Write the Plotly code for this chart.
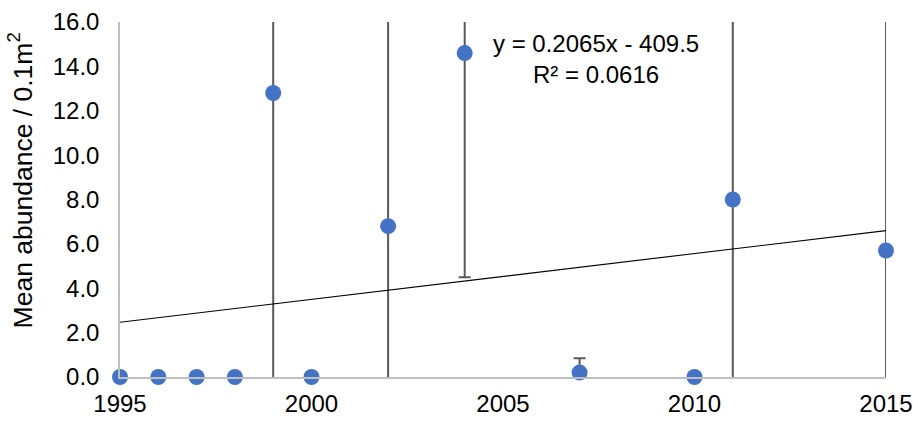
import plotly.graph_objects as go

years = [1995, 1996, 1997, 1998, 1999, 2000, 2002, 2004, 2007, 2010, 2011, 2015]
mean_abundance = [0.0, 0.0, 0.0, 0.0, 12.8, 0.0, 6.8, 14.6, 0.2, 0.0, 8.0, 5.7]
error_values = [0.0, 0.0, 0.0, 0.0, 14.0, 0.0, 12.0, 10.1, 0.65, 0.0, 11.0, 12.0]
trend_slope = 0.2065
trend_intercept = -409.5
trend_x = [1995, 2015]
y_ticks = [0, 2, 4, 6, 8, 10, 12, 14, 16]
x_ticks = [1995, 2000, 2005, 2010, 2015]

FONT = "Liberation Sans, Arial, sans-serif"
fig = go.Figure()

# error bars (clipped to plot area)
fig.add_trace(go.Scatter(
    x=years, y=mean_abundance, mode="markers",
    marker=dict(size=1, opacity=0),
    error_y=dict(type="data", array=error_values, symmetric=True,
                 color="#595959", thickness=2, width=6),
    cliponaxis=True, showlegend=False, hoverinfo="skip",
))

# trendline
trend_y = [trend_slope * x + trend_intercept for x in trend_x]
fig.add_trace(go.Scatter(
    x=trend_x, y=trend_y, mode="lines",
    line=dict(color="#000000", width=1.1),
    showlegend=False,
))

# markers
fig.add_trace(go.Scatter(
    x=years, y=mean_abundance, mode="markers",
    marker=dict(size=16, color="#4472C4"),
    cliponaxis=False, showlegend=False,
))

fig.add_annotation(
    text="y = 0.2065x - 409.5<br>R² = 0.0616",
    xref="paper", yref="paper", x=0.621, y=0.897,
    xanchor="center", yanchor="middle",
    showarrow=False, align="center",
    font=dict(family=FONT, size=24, color="#000000"),
)

fig.add_annotation(
    text="Mean abundance / 0.1m<sup>2</sup>",
    xref="paper", yref="paper", x=-0.13, y=0.555,
    xanchor="center", yanchor="middle",
    textangle=-90, showarrow=False,
    font=dict(family=FONT, size=26.5, color="#000000"),
)

fig.update_layout(
    width=913, height=421,
    margin=dict(l=120, r=27, t=22, b=44, autoexpand=False),
    plot_bgcolor="white", paper_bgcolor="white",
    font=dict(family=FONT, size=24, color="#000000"),
    xaxis=dict(range=[1995, 2015], tickvals=x_ticks, showgrid=False,
               zeroline=False, showline=True, linecolor="#BFBFBF", linewidth=1.5,
               ticks="", ticklabelstandoff=4, automargin=False),
    yaxis=dict(range=[0, 16], tickvals=y_ticks, tickformat=".1f", showgrid=False,
               zeroline=False, showline=True, linecolor="#BFBFBF", linewidth=1.5,
               ticks="", ticklabelstandoff=14, automargin=False),
)

fig.write_html("out.html", config={"displayModeBar": False},
               post_script="document.body.style.margin='0';")
